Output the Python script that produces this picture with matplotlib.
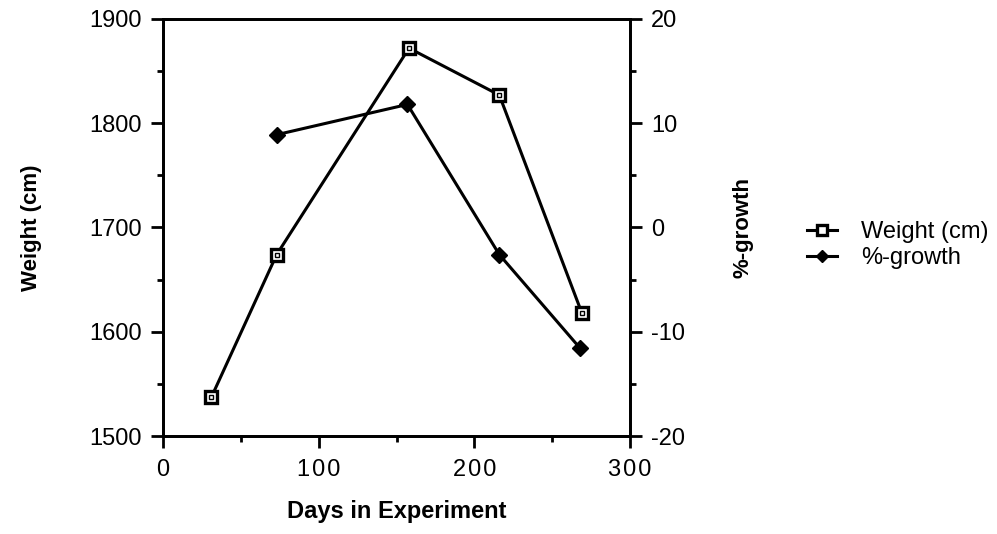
import matplotlib
matplotlib.use("Agg")
import matplotlib.pyplot as plt
from matplotlib.ticker import MultipleLocator

plt.rcParams['font.family'] = ['Liberation Sans', 'DejaVu Sans']
plt.rcParams['axes.unicode_minus'] = False

days_weight = [31, 73, 158, 216, 269]
weight = [1537, 1674, 1872, 1827, 1618]
days_growth = [73, 157, 216, 268]
growth = [8.9, 11.8, -2.6, -11.6]
x_ticks = [0, 100, 200, 300]
x_labels = ['0', '1\u200a0\u200a0', '2\u200a0\u200a0', '3\u200a0\u200a0']

fig = plt.figure(figsize=(9.97, 5.34), dpi=100)
ax = fig.add_axes([0.1635, 0.1835, 0.4685, 0.781])
ax2 = ax.twinx()

l1, = ax.plot(days_weight, weight, color='black', lw=2.2, marker='s', ms=9,
              mfc='white', mec='black', mew=2.4, label='Weight (cm)', zorder=3)
ax.plot(days_weight, weight, ls='none', marker='s', ms=3, mfc='white',
        mec='black', mew=1, zorder=4)
l2, = ax2.plot(days_growth, growth, color='black', lw=2.2, marker='D', ms=8.5,
               mfc='black', mec='black', label='%-growth')

ax.set_xlim(0, 300)
ax.set_ylim(1500, 1900)
ax2.set_ylim(-20, 20)
ax.xaxis.set_minor_locator(MultipleLocator(50))
ax.yaxis.set_major_locator(MultipleLocator(100))
ax.yaxis.set_minor_locator(MultipleLocator(50))
ax2.yaxis.set_major_locator(MultipleLocator(10))
ax2.yaxis.set_minor_locator(MultipleLocator(5))

for a in (ax, ax2):
    for s in a.spines.values():
        s.set_linewidth(2)
    a.tick_params(which='major', direction='out', length=8.5, width=2, labelsize=17, pad=6.5)
    a.tick_params(which='minor', direction='out', length=4.5, width=2)
ax.tick_params(axis='x', which='major', pad=8)

ax.set_xticks(x_ticks)
ax.set_xticklabels(x_labels)

ax.set_xlabel('Days in Experiment', fontsize=17, fontweight='bold', labelpad=14)
ax.set_ylabel('Weight (cm)', fontsize=16, fontweight='bold', labelpad=34)
ax2.set_ylabel('%-growth', fontsize=16, fontweight='bold', labelpad=34)

fig.legend(handles=[l1, l2], loc='center left', bbox_to_anchor=(0.809, 0.541),
           frameon=False, fontsize=17, handlelength=1.3, handletextpad=1.0,
           labelspacing=0.15, borderpad=0, borderaxespad=0, markerscale=0.75)

fig.savefig('out.png', dpi=100)
